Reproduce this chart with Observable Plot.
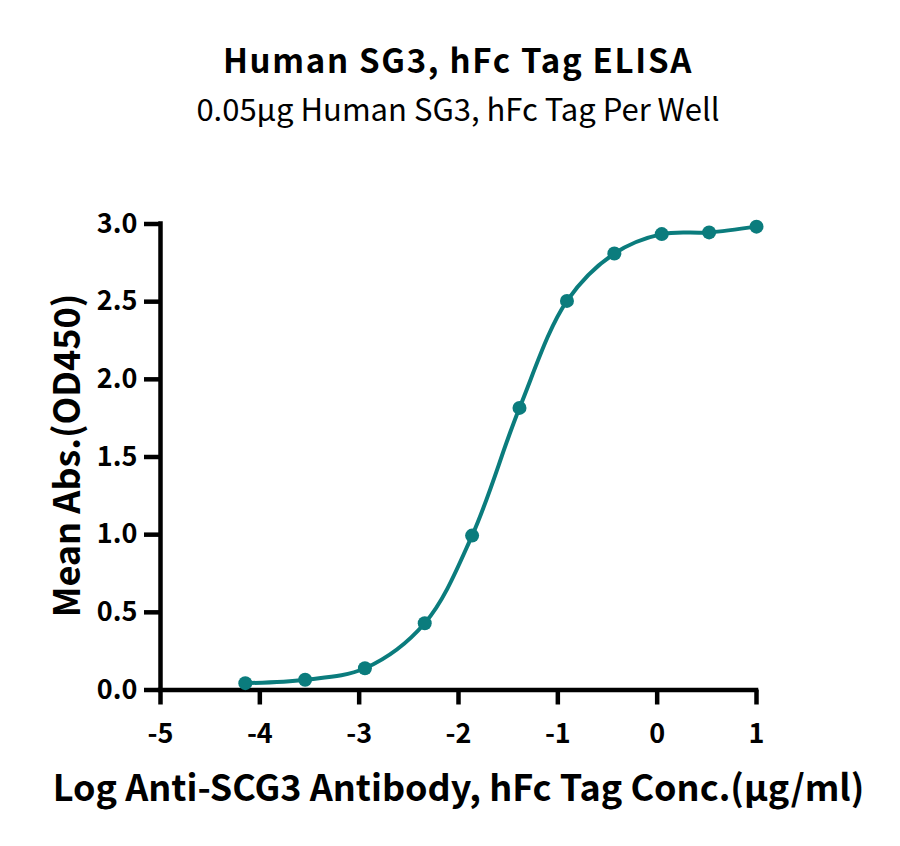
<!DOCTYPE html>
<html>
<head>
<meta charset="utf-8">
<script src="https://cdn.jsdelivr.net/npm/d3@7"></script>
<script src="https://cdn.jsdelivr.net/npm/@observablehq/plot@0.6"></script>
<style>
  html, body { margin: 0; padding: 0; background: #fff; }
  body { width: 900px; height: 846px; overflow: hidden; font-family: "Noto Sans CJK SC", "Noto Sans", sans-serif; }
  #head { height: 140px; position: relative; }
  #title { position: absolute; left: 0; width: 916px; top: 43px; text-align: center; font-weight: bold; font-size: 33px; letter-spacing: 1.7px; line-height: 1; color: #000; white-space: nowrap; }
  #subtitle { position: absolute; left: 0; width: 916px; top: 92px; text-align: center; font-size: 31px; line-height: 1; color: #000; white-space: nowrap; }
</style>
</head>
<body>
<div id="head">
  <div id="title"></div>
  <div id="subtitle"></div>
</div>
<div id="chart"></div>
<script>
const titleText = "Human SG3, hFc Tag ELISA";
const subtitleText = "0.05μg Human SG3, hFc Tag Per Well";
const xLabel = "Log Anti-SCG3 Antibody, hFc Tag Conc.(μg/ml)";
const yLabel = "Mean Abs.(OD450)";

// log10 concentration (μg/ml)
const logConc = [-4.146, -3.544, -2.942, -2.340, -1.863, -1.386, -0.908, -0.431, 0.046, 0.523, 1.0];
// mean OD450
const meanAbs = [0.044, 0.066, 0.140, 0.430, 0.994, 1.816, 2.505, 2.810, 2.935, 2.946, 2.983];

const xTicks = [-5, -4, -3, -2, -1, 0, 1];
const yTicks = [0, 0.5, 1.0, 1.5, 2.0, 2.5, 3.0];

document.getElementById("title").textContent = titleText;
document.getElementById("subtitle").textContent = subtitleText;

const data = logConc.map((x, i) => ({x, y: meanAbs[i]}));
const teal = "#0b7c7d";
const font = '"Noto Sans CJK SC", "Noto Sans", sans-serif';

const chart = Plot.plot({
  width: 900,
  height: 706,
  marginLeft: 160,
  marginRight: 144,
  marginTop: 83.5,
  marginBottom: 156.5,
  style: {fontFamily: font, color: "#000", background: "#fff"},
  x: {domain: [-5, 1]},
  y: {domain: [0, 3]},
  marks: [
    Plot.axisX({ticks: xTicks, tickFormat: d => String(d), tickSize: 15, tickPadding: 19, strokeWidth: 4.5, fontSize: 27, fontWeight: "bold", label: null}),
    Plot.axisY({ticks: yTicks, tickFormat: d => d.toFixed(1), tickSize: 16, tickPadding: 7, strokeWidth: 4.5, fontSize: 27, fontWeight: "bold", label: null}),
    Plot.ruleY([0], {x1: -5, x2: 1, stroke: "#000", strokeWidth: 4.5, strokeLinecap: "square"}),
    Plot.ruleX([-5], {y1: 0, y2: 3, stroke: "#000", strokeWidth: 4.5, strokeLinecap: "square"}),
    Plot.line(data, {x: "x", y: "y", curve: "catmull-rom", stroke: teal, strokeWidth: 4}),
    Plot.dot(data, {x: "x", y: "y", r: 7, fill: teal, stroke: "none"}),
    Plot.text([xLabel], {frameAnchor: "bottom", lineAnchor: "middle", textAnchor: "middle", dy: 99, fontSize: 36, fontWeight: "bold", fill: "#000"}),
    Plot.text([yLabel], {frameAnchor: "left", lineAnchor: "middle", textAnchor: "middle", rotate: -90, dx: -92, dy: -1.5, fontSize: 36, fontWeight: "bold", fill: "#000"})
  ]
});
document.getElementById("chart").appendChild(chart);
</script>
</body>
</html>
